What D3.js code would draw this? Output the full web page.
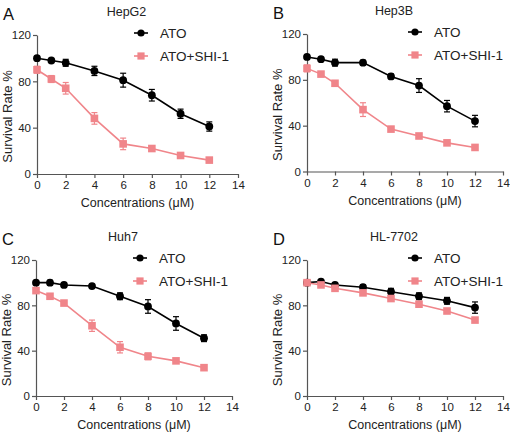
<!DOCTYPE html>
<html><head><meta charset="utf-8">
<script src="https://cdn.jsdelivr.net/npm/d3@7"></script>
<style>
body{margin:0;background:#fff;}
svg{display:block;font-family:"Liberation Sans",Arial,sans-serif;}
</style></head>
<body><svg id="c" width="510" height="437"></svg>
<script>
const concentrations = [0, 1, 2, 4, 6, 8, 10, 12];
const xTicks = [0, 2, 4, 6, 8, 10, 12, 14];
const yTicks = [0, 40, 80, 120];
const seriesNames = ["ATO", "ATO+SHI-1"];
const panelLetters = ["A", "B", "C", "D"];
const panelTitles = ["HepG2", "Hep3B", "Huh7", "HL-7702"];

const hepg2_ato = [100, 98, 96, 89, 81, 68, 52, 41];
const hepg2_ato_err = [1, 1, 3, 4, 6, 5, 4, 4];
const hepg2_shi = [90, 82, 74, 48, 26, 22, 16, 12];
const hepg2_shi_err = [3, 3, 5, 5, 5, 2, 1, 1];

const hep3b_ato = [100, 98, 95, 95, 83, 75, 57, 44];
const hep3b_ato_err = [1, 1, 3, 2, 2, 6, 5, 5];
const hep3b_shi = [90, 85, 77, 54, 37, 31, 25, 21];
const hep3b_shi_err = [3, 1, 1, 6, 2, 2, 1, 2];

const huh7_ato = [100, 100, 98, 97, 88, 79, 64, 51];
const huh7_ato_err = [1, 2, 2, 1, 3, 6, 6, 3];
const huh7_shi = [93, 88, 82, 62, 43, 35, 31, 25];
const huh7_shi_err = [1, 1, 1, 5, 5, 3, 2, 1];

const hl7702_ato = [100, 101, 98, 96, 92, 88, 84, 78];
const hl7702_ato_err = [1, 1, 2, 2, 3, 3, 3, 5];
const hl7702_shi = [100, 98, 95, 91, 86, 81, 75, 67];
const hl7702_shi_err = [1, 1, 1, 1, 1, 1, 1, 1];

const colors = ["#000000", "#f0858a"];

const panels = [
  {x0: 37, x1: 238, yTop: 35, yBot: 174, data: [[hepg2_ato, hepg2_ato_err], [hepg2_shi, hepg2_shi_err]]},
  {x0: 307, x1: 503, yTop: 34, yBot: 171.5, data: [[hep3b_ato, hep3b_ato_err], [hep3b_shi, hep3b_shi_err]]},
  {x0: 36, x1: 232, yTop: 260, yBot: 396, data: [[huh7_ato, huh7_ato_err], [huh7_shi, huh7_shi_err]]},
  {x0: 307, x1: 503, yTop: 260, yBot: 396, data: [[hl7702_ato, hl7702_ato_err], [hl7702_shi, hl7702_shi_err]]}
];

const svg = d3.select("#c");
const axisColor = "#555";

panels.forEach((p, i) => {
  const g = svg.append("g");
  const x = d3.scaleLinear().domain([0, 14]).range([p.x0, p.x1]);
  const y = d3.scaleLinear().domain([0, 120]).range([p.yBot, p.yTop]);

  const xa = g.append("g").attr("transform", `translate(0,${p.yBot})`)
    .call(d3.axisBottom(x).tickValues(xTicks).tickSize(4).tickSizeOuter(0).tickPadding(3));
  const ya = g.append("g").attr("transform", `translate(${p.x0},0)`)
    .call(d3.axisLeft(y).tickValues(yTicks).tickSize(4).tickSizeOuter(0).tickPadding(2));
  [xa, ya].forEach(a => {
    a.selectAll("path,line").attr("stroke", axisColor).attr("stroke-width", 1.2);
    a.selectAll("text").attr("fill", "#222").style("font-size", "11.5px").style("font-family", "'Liberation Sans',Arial,sans-serif");
  });

  g.append("text").attr("x", (p.x0 + p.x1) / 2).attr("y", p.yBot + 33)
    .attr("text-anchor", "middle").style("font-size", "12.5px").attr("fill", "#222")
    .text("Concentrations (μM)");
  const ylx = p.x0 - 25;
  const yly = (p.yTop + p.yBot) / 2 + 12;
  g.append("text").attr("transform", `translate(${ylx},${yly}) rotate(-90)`)
    .attr("text-anchor", "middle").style("font-size", "13px").attr("fill", "#222")
    .text("Survival Rate %");

  g.append("text").attr("x", (p.x0 + p.x1) / 2 - 11).attr("y", p.yTop - 19)
    .attr("text-anchor", "middle").style("font-size", "12.5px").attr("fill", "#222")
    .text(panelTitles[i]);
  g.append("text").attr("x", p.x0 - 34).attr("y", p.yTop - 15)
    .style("font-size", "16.5px").attr("fill", "#111")
    .text(panelLetters[i]);

  p.data.forEach(([vals, errs], s) => {
    const col = colors[s];
    const pts = concentrations.map((c, k) => ({c, v: vals[k], e: errs[k]}));
    const sg = g.append("g");
    const eb = sg.selectAll(".eb").data(pts).enter().append("g");
    eb.append("line").attr("x1", d => x(d.c)).attr("x2", d => x(d.c))
      .attr("y1", d => y(d.v - d.e)).attr("y2", d => y(d.v + d.e))
      .attr("stroke", col).attr("stroke-width", 1.2);
    eb.append("line").attr("x1", d => x(d.c) - 3).attr("x2", d => x(d.c) + 3)
      .attr("y1", d => y(d.v + d.e)).attr("y2", d => y(d.v + d.e))
      .attr("stroke", col).attr("stroke-width", 1.2);
    eb.append("line").attr("x1", d => x(d.c) - 3).attr("x2", d => x(d.c) + 3)
      .attr("y1", d => y(d.v - d.e)).attr("y2", d => y(d.v - d.e))
      .attr("stroke", col).attr("stroke-width", 1.2);
    sg.append("path").datum(pts)
      .attr("d", d3.line().x(d => x(d.c)).y(d => y(d.v)))
      .attr("fill", "none").attr("stroke", col).attr("stroke-width", 1.6);
    if (s === 0) {
      sg.selectAll("circle").data(pts).enter().append("circle")
        .attr("cx", d => x(d.c)).attr("cy", d => y(d.v)).attr("r", 3.9).attr("fill", col);
    } else {
      sg.selectAll("rect").data(pts).enter().append("rect")
        .attr("x", d => x(d.c) - 3.8).attr("y", d => y(d.v) - 3.8)
        .attr("width", 7.6).attr("height", 7.6).attr("fill", col);
    }
  });

  const lx = p.x0 + (i % 2 === 0 ? 104 : 108);
  seriesNames.forEach((n, s) => {
    const ly = p.yTop - 2 + s * 23;
    const col = colors[s];
    const lg = g.append("g");
    lg.append("line").attr("x1", lx - 7).attr("x2", lx + 7).attr("y1", ly).attr("y2", ly)
      .attr("stroke", col).attr("stroke-width", 1.6);
    if (s === 0) lg.append("circle").attr("cx", lx).attr("cy", ly).attr("r", 3.6).attr("fill", col);
    else lg.append("rect").attr("x", lx - 3.6).attr("y", ly - 3.6).attr("width", 7.2).attr("height", 7.2).attr("fill", col);
    lg.append("text").attr("x", lx + 19).attr("y", ly + 4.5)
      .style("font-size", "13.5px").attr("fill", "#222").text(n);
  });
});
</script></body></html>
